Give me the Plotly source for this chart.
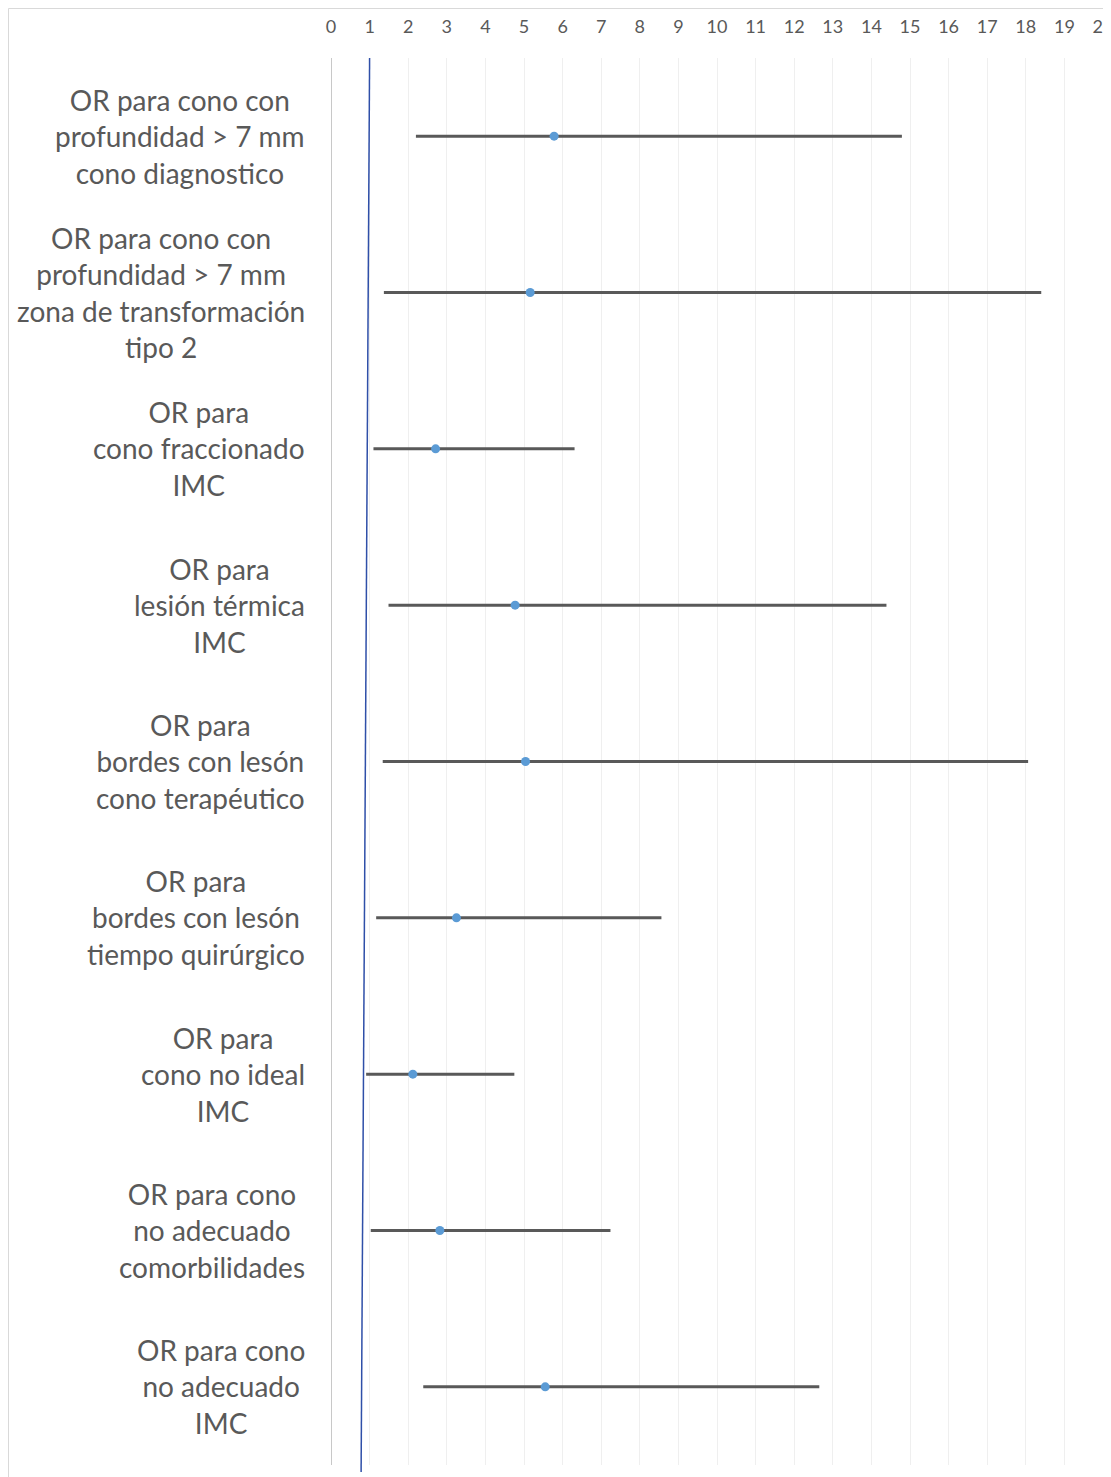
import plotly.graph_objects as go

labels = [
    "OR para cono con<br>profundidad > 7 mm<br>cono diagnostico",
    "OR para cono con<br>profundidad > 7 mm<br>zona de transformación<br>tipo 2",
    "OR para<br>cono fraccionado<br>IMC",
    "OR para<br>lesión térmica<br>IMC",
    "OR para<br>bordes con lesón<br>cono terapéutico",
    "OR para<br>bordes con lesón<br>tiempo quirúrgico",
    "OR para<br>cono no ideal<br>IMC",
    "OR para cono<br>no adecuado<br>comorbilidades",
    "OR para cono<br>no adecuado<br>IMC",
]
or_vals = [5.78, 5.16, 2.71, 4.77, 5.04, 3.25, 2.12, 2.82, 5.55]
ci_low = [2.20, 1.37, 1.10, 1.49, 1.34, 1.17, 0.91, 1.03, 2.39]
ci_high = [14.79, 18.40, 6.31, 14.39, 18.06, 8.56, 4.75, 7.24, 12.65]
x_ticks = list(range(0, 21))
ref_line_x = [1.0, 0.78]

rows = list(range(len(labels)))

W, H = 1103, 1469
L, R, T, B = 323, 8, 50, 12
PW = W - L - R
PH = H - T - B


def px_x(p):
    return (p - L) / PW


def px_y(p):
    return 1 - (p - T) / PH


fig = go.Figure()
fig.add_trace(go.Scatter(
    x=or_vals, y=rows, mode="markers",
    marker=dict(color="#5B9BD5", size=9),
    error_x=dict(type="data", symmetric=False,
                 array=[h - o for h, o in zip(ci_high, or_vals)],
                 arrayminus=[o - l for o, l in zip(or_vals, ci_low)],
                 color="#595959", thickness=3, width=0),
    showlegend=False, hoverinfo="x",
))

# reference line (OR = 1)
fig.add_shape(type="line", xref="x", yref="paper",
              x0=ref_line_x[0], y0=1.0, x1=ref_line_x[1], y1=px_y(1464),
              line=dict(color="#2F4FA8", width=1.5), layer="above")

# outer chart border
fig.add_shape(type="rect", xref="paper", yref="paper",
              x0=px_x(0.5), y0=px_y(0.5), x1=px_x(1120), y1=px_y(1490),
              line=dict(color="#D9D9D9", width=1), fillcolor="rgba(0,0,0,0)")

for i, lab in enumerate(labels):
    fig.add_annotation(x=px_x(299), xref="paper", y=i, yref="y",
                       text=lab, showarrow=False, xanchor="right", yanchor="middle",
                       align="center", yshift=0,
                       font=dict(family="Lato", size=28, color="#595959"))

fig.update_layout(
    width=W, height=H,
    margin=dict(l=L, r=R, t=T, b=B, pad=0, autoexpand=False),
    paper_bgcolor="white", plot_bgcolor="white",
    font=dict(family="Lato", color="#595959"),
    xaxis=dict(side="top", range=[0, 20], tickvals=x_ticks,
               tickfont=dict(size=18, color="#595959"),
               showgrid=True, gridcolor="#EFEFEF", gridwidth=1,
               zeroline=True, zerolinecolor="#C8C8C8", zerolinewidth=1,
               ticks="outside", ticklen=17, tickcolor="rgba(0,0,0,0)",
               ticklabeloverflow="allow", automargin=False,
               showline=False, fixedrange=True),
    yaxis=dict(range=[8.5, -0.5], showticklabels=False, showgrid=False,
               zeroline=False, showline=False, fixedrange=True, automargin=False),
)

fig.write_html("out.html")
